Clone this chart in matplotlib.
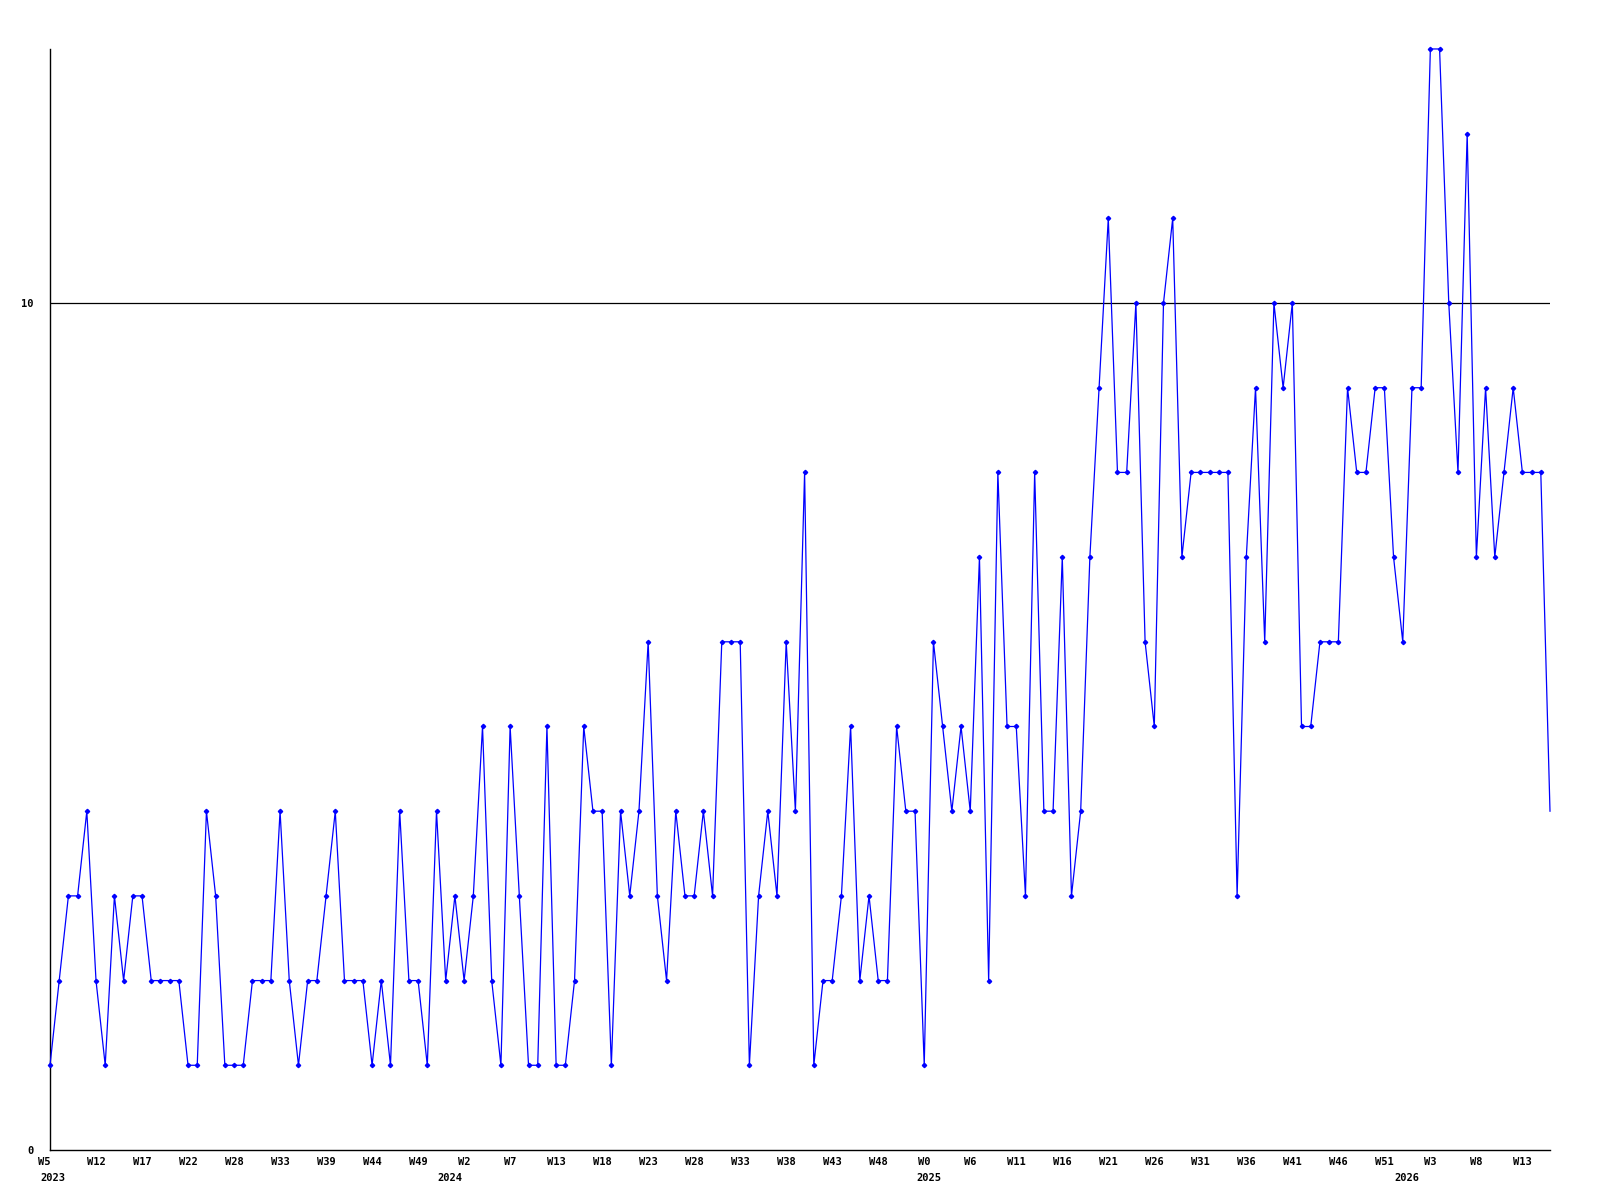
import matplotlib
matplotlib.use("Agg")
import matplotlib.pyplot as plt
import matplotlib.transforms as mtransforms

values = [
    1, 2, 3, 3, 4, 2, 1, 3, 2, 3, 3, 2, 2, 2, 2, 1, 1, 4, 3, 1, 1, 1, 2, 2, 2, 4, 2, 1, 2, 2,
    3, 4, 2, 2, 2, 1, 2, 1, 4, 2, 2, 1,
    4, 2, 3, 2, 3, 5, 2, 1, 5, 3, 1, 1, 5, 1, 1, 2, 5, 4, 4, 1, 4, 3, 4, 6, 3, 2, 4, 3, 3, 4,
    3, 6, 6, 6, 1, 3, 4, 3, 6, 4, 8, 1,
    2, 2, 3, 5, 2, 3, 2, 2, 5, 4, 4, 1, 6, 5, 4, 5, 4, 7, 2, 8, 5, 5, 3, 8, 4, 4, 7, 3, 4, 7,
    9, 11, 8, 8, 10, 6, 5, 10, 11, 7, 8, 8, 8, 8, 8,
    3, 7, 9, 6, 10, 9, 10, 5, 5, 6, 6, 6, 9, 8, 8, 9, 9, 7, 6, 9, 9, 13, 13, 10, 8, 12, 7, 9, 7, 8,
    9, 8, 8, 8, 4,
]

week_labels = ["W5", "W12", "W17", "W22", "W28", "W33", "W39", "W44", "W49", "W2", "W7",
               "W13", "W18", "W23", "W28", "W33", "W38", "W43", "W48", "W0", "W6", "W11",
               "W16", "W21", "W26", "W31", "W36", "W41", "W46", "W51", "W3", "W8", "W13"]
label_step = 5
year_labels = ["2023", "2024", "2025", "2026"]
year_label_index = [0, 45, 95, 150]
year_offsets_pts = [2, -10, 3, -17]

y_ticks = [0, 10]
y_max = 13

font = dict(family="DejaVu Sans Mono", weight="bold", size=7.5)

fig = plt.figure(figsize=(16, 12), dpi=100)
ax = fig.add_axes([0.03125, 0.0417, 0.9375, 0.9175])

x = list(range(len(values)))
ax.plot(x, values, color=(0, 0, 1), linewidth=0.9, marker="D", markersize=2.2,
        markevery=slice(0, len(values) - 1), clip_on=False, zorder=3)

ax.set_xlim(0, len(values) - 1)
ax.set_ylim(0, y_max)

for s in ["top", "right"]:
    ax.spines[s].set_visible(False)
for s in ["left", "bottom"]:
    ax.spines[s].set_color("black")
    ax.spines[s].set_linewidth(1.0)

ax.axhline(10, color="black", linewidth=0.9, zorder=1)

ax.set_yticks(y_ticks)
ax.set_yticklabels([str(t) for t in y_ticks], **font)
ax.tick_params(axis="y", length=0, pad=12)

xt = [i * label_step for i in range(len(week_labels))]
ax.set_xticks(xt)
ax.set_xticklabels(week_labels, **font)
ax.tick_params(axis="x", length=0, pad=5)
ax.get_xticklabels()[0].set_horizontalalignment("right")
ax.get_xticklabels()[0].set_x(0)

trans = mtransforms.blended_transform_factory(ax.transData, ax.transAxes)
for lab, idx, off in zip(year_labels, year_label_index, year_offsets_pts):
    t = mtransforms.offset_copy(trans, fig=fig, x=off, y=-20, units="points")
    ax.text(idx, 0, lab, transform=t, ha="center", va="center", **font)

fig.savefig("out.png", dpi=100, facecolor="white")
